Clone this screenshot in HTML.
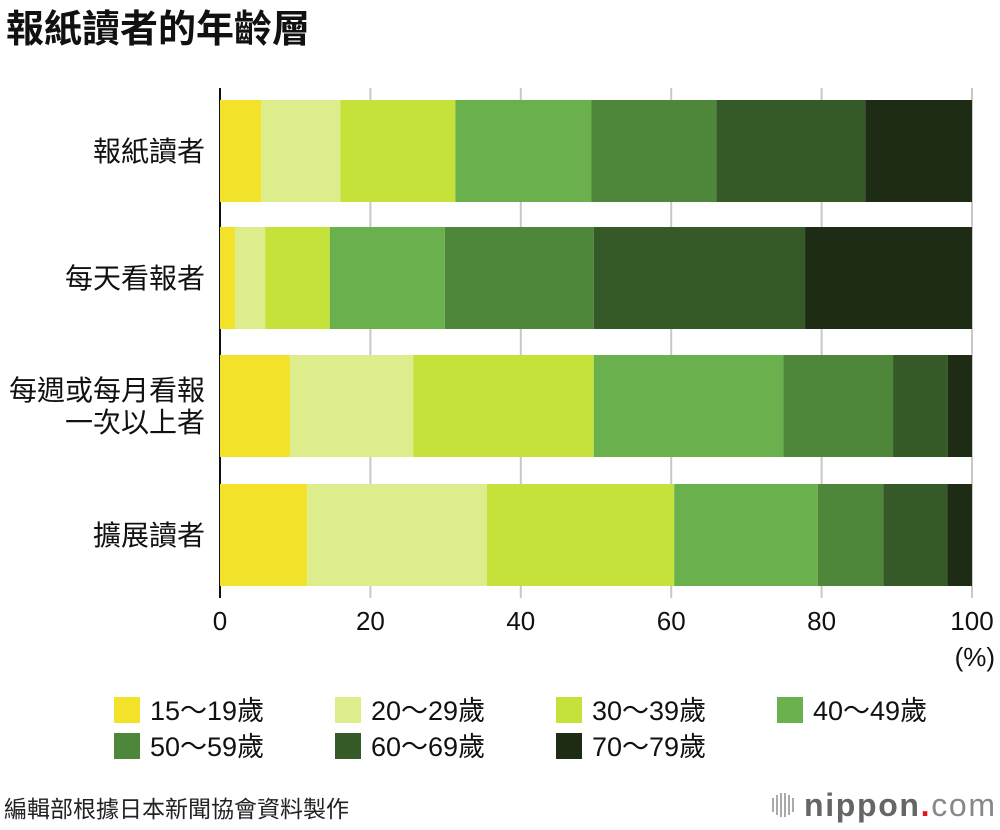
<!DOCTYPE html>
<html><head><meta charset="utf-8">
<style>
body{margin:0;background:#fff;font-family:"Liberation Sans","Noto Sans CJK TC",sans-serif;}
#wrap{position:relative;width:1000px;height:830px;overflow:hidden;}
</style></head>
<body>
<div id="wrap">
<svg id="chart" width="1000" height="830" xmlns="http://www.w3.org/2000/svg" style="font-family:'Liberation Sans','Noto Sans CJK TC',sans-serif">
<text x="6" y="42" font-size="38" font-weight="bold" fill="#111">報紙讀者的年齡層</text>
<g id="grid"></g>
<g id="bars"></g>
<g id="labels"></g>
<g id="legend"></g>
<text x="4" y="817" font-size="23" fill="#222">編輯部根據日本新聞協會資料製作</text>
<g>
<g fill="#aaa">
<rect x="772" y="798" width="2" height="14"/><rect x="776" y="795" width="2" height="20"/><rect x="780" y="793" width="2" height="24"/><rect x="784" y="793" width="2" height="24"/><rect x="788" y="795" width="2" height="20"/><rect x="792" y="798" width="2" height="14"/>
</g>
<text x="804" y="816" font-size="32" font-weight="bold" fill="#666" textLength="191" lengthAdjust="spacing">nippon<tspan fill="#e3141c">.</tspan><tspan font-weight="normal" fill="#888">com</tspan></text>
</g>
</svg>
</div>
<script>
const categories = ["報紙讀者","每天看報者","每週或每月看報|一次以上者","擴展讀者"];
const ageGroups = ["15〜19歲","20〜29歲","30〜39歲","40〜49歲","50〜59歲","60〜69歲","70〜79歲"];
const s15 = [5.5, 2.0, 9.3, 11.6];
const s20 = [10.5, 4.0, 16.4, 23.9];
const s30 = [15.3, 8.6, 24.0, 24.9];
const s40 = [18.1, 15.3, 25.2, 19.1];
const s50 = [16.6, 19.8, 14.6, 8.7];
const s60 = [19.8, 28.1, 7.3, 8.5];
const s70 = [14.2, 22.2, 3.2, 3.3];
const ticks = [0,20,40,60,80,100];

const series=[s15,s20,s30,s40,s50,s60,s70];
const colors=["#f2e22a","#dded8b","#c5e23a","#6ab04c","#4e873a","#365a27","#1e2b15"];
const NS="http://www.w3.org/2000/svg";
const x0=220,x1=972,plotTop=88,plotBottom=598;
const xs=v=>x0+(x1-x0)*v/100;
const bandTop=[100,227,355,484],bandH=102;
function mk(tag,attrs,parent){const e=document.createElementNS(NS,tag);for(const k in attrs)e.setAttribute(k,attrs[k]);parent.appendChild(e);return e;}
const grid=document.getElementById('grid'),bars=document.getElementById('bars'),labels=document.getElementById('labels'),legend=document.getElementById('legend');
ticks.forEach(t=>{
  if(t>0){const l=mk('line',{x1:xs(t),x2:xs(t),y1:plotTop,y2:plotBottom,stroke:'#c8c8c8','stroke-width':2},grid);
  
  }
  const tx=mk('text',{x:xs(t),y:630,'font-size':26,'text-anchor':'middle',fill:'#111'},grid);tx.textContent=t;
  
  
});
const pct=mk('text',{x:995,y:666,'font-size':26,'text-anchor':'end',fill:'#111'},grid);pct.textContent='(%)';


categories.forEach((c,i)=>{
  let acc=0;const y=bandTop[i];
  series.forEach((s,j)=>{
    const r=mk('rect',{x:xs(acc),y:y,width:xs(acc+s[i])-xs(acc),height:bandH,fill:colors[j]},bars);
    
    
    acc+=s[i];
  });
  const parts=c.split('|');
  parts.forEach((p,k)=>{
    const yy=y+bandH/2+10+(k-(parts.length-1)/2)*32;
    const t=mk('text',{x:205,y:yy,'font-size':28,'text-anchor':'end',fill:'#111'},labels);t.textContent=p;
    
    
  });
});
const ax=mk('line',{x1:x0,x2:x0,y1:plotTop,y2:plotBottom,stroke:'#111','stroke-width':2},grid);


ageGroups.forEach((g,j)=>{
  const col=j%4,row=Math.floor(j/4);
  const lx=114+col*221,ly=697+row*36;
  const grp=mk('g',{},legend);
  
  
  mk('rect',{x:lx,y:ly,width:26,height:26,fill:colors[j]},grp);
  const t=mk('text',{x:lx+36,y:ly+23,'font-size':27,fill:'#111'},grp);t.textContent=g;
});
</script>
</body></html>
